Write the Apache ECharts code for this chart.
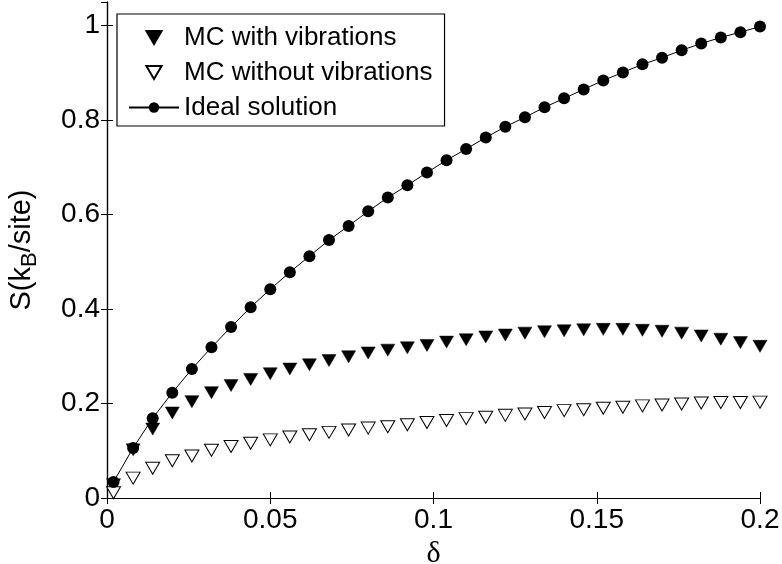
<!DOCTYPE html>
<html>
<head>
<meta charset="utf-8">
<script src="https://cdn.jsdelivr.net/npm/echarts@6/dist/echarts.min.js"></script>
<style>
  html, body { margin: 0; padding: 0; background: #fff; }
  #main { width: 782px; height: 564px; }
</style>
</head>
<body>
<div id="main"></div>
<script>
"use strict";

// delta values (x axis)
var deltas = [0.002, 0.008, 0.014, 0.020, 0.026, 0.032, 0.038, 0.044, 0.050, 0.056,
  0.062, 0.068, 0.074, 0.080, 0.086, 0.092, 0.098, 0.104, 0.110, 0.116,
  0.122, 0.128, 0.134, 0.140, 0.146, 0.152, 0.158, 0.164, 0.170, 0.176,
  0.182, 0.188, 0.194, 0.200];

// MC with vibrations
var mcVib = [0.028, 0.102, 0.146, 0.180, 0.204, 0.223, 0.238, 0.251, 0.263, 0.273,
  0.282, 0.291, 0.299, 0.307, 0.313, 0.318, 0.323, 0.330, 0.335, 0.341,
  0.345, 0.349, 0.352, 0.354, 0.356, 0.357, 0.357, 0.355, 0.353, 0.349,
  0.343, 0.336, 0.329, 0.321];

// MC without vibrations
var mcNoVib = [0.011, 0.042, 0.063, 0.079, 0.089, 0.101, 0.109, 0.116, 0.123, 0.129,
  0.134, 0.139, 0.144, 0.148, 0.151, 0.155, 0.160, 0.164, 0.168, 0.171,
  0.175, 0.178, 0.181, 0.185, 0.187, 0.190, 0.192, 0.195, 0.197, 0.199,
  0.201, 0.202, 0.202, 0.203];

// ideal solution
var ideal = [0.034, 0.106, 0.169, 0.223, 0.273, 0.319, 0.362, 0.404, 0.442, 0.478,
  0.512, 0.546, 0.576, 0.607, 0.636, 0.662, 0.689, 0.715, 0.739, 0.763,
  0.786, 0.806, 0.827, 0.846, 0.865, 0.884, 0.901, 0.918, 0.932, 0.948,
  0.962, 0.975, 0.986, 0.998];

var seriesNames = ['MC with vibrations', 'MC without vibrations', 'Ideal solution'];

function pairs(xs, ys) {
  return xs.map(function (x, i) { return [x, ys[i]]; });
}

var FONT = '"Liberation Sans", Arial, Helvetica, sans-serif';
// downward triangle for the legend (keeps its aspect inside the icon box)
var DOWN_TRI = 'path://M0,0 L14,0 L7,12 Z';

var chart = echarts.init(document.getElementById('main'), null, { renderer: 'canvas' });

var tickStyle = { show: true, inside: true, length: 6, lineStyle: { color: '#000', width: 1 } };
var lineStyle = { show: true, lineStyle: { color: '#000', width: 1.2 } };

var option = {
  backgroundColor: '#fff',
  animation: false,
  grid: { left: 107, right: 22, top: 2, bottom: 66, containLabel: false, outerBoundsMode: 'none' },
  legend: {
    orient: 'vertical',
    left: 117,
    top: 14,
    padding: [6, 12, 1, 11],
    itemGap: 0,
    itemWidth: 50,
    itemHeight: 13,
    symbolKeepAspect: true,
    backgroundColor: '#fff',
    borderColor: '#000',
    borderWidth: 1.2,
    borderRadius: 0,
    textStyle: { fontFamily: FONT, fontSize: 26, color: '#000', lineHeight: 35 },
    data: [
      { name: seriesNames[0], icon: DOWN_TRI },
      { name: seriesNames[1], icon: DOWN_TRI },
      { name: seriesNames[2] }
    ]
  },
  xAxis: [{
    type: 'value',
    min: 0, max: 0.2, interval: 0.05,
    position: 'bottom',
    axisLine: lineStyle,
    axisTick: tickStyle,
    splitLine: { show: false },
    axisLabel: { fontFamily: FONT, fontSize: 28, color: '#000', margin: 8 },
    name: 'δ',
    nameLocation: 'middle',
    nameGap: 41,
    nameTextStyle: { fontFamily: '"Liberation Serif", "DejaVu Serif", serif', fontSize: 30, color: '#000' }
  }, {
    type: 'value',
    min: 0, max: 0.2, interval: 0.05,
    position: 'top',
    axisLine: lineStyle,
    axisTick: tickStyle,
    splitLine: { show: false },
    axisLabel: { show: false }
  }],
  yAxis: [{
    type: 'value',
    min: 0, max: 1.05, interval: 0.2,
    position: 'left',
    axisLine: lineStyle,
    axisTick: tickStyle,
    splitLine: { show: false },
    axisLabel: {
      fontFamily: FONT, fontSize: 28, color: '#000', margin: 7,
      showMaxLabel: false
    },
    name: 'S(k{s|B}/site)',
    nameLocation: 'middle',
    nameGap: 66,
    nameRotate: 90,
    nameTextStyle: {
      fontFamily: FONT, fontSize: 29, color: '#000',
      rich: {
        s: { fontFamily: FONT, fontSize: 22, color: '#000', padding: [16, 0, 0, 0] }
      }
    }
  }, {
    type: 'value',
    min: 0, max: 1.05, interval: 0.2,
    position: 'right',
    axisLine: lineStyle,
    axisTick: tickStyle,
    splitLine: { show: false },
    axisLabel: { show: false }
  }],
  series: [{
    name: seriesNames[0],
    type: 'scatter',
    data: pairs(deltas, mcVib),
    symbol: 'triangle',
    symbolRotate: 180,
    symbolSize: [14, 12],
    itemStyle: { color: '#000', borderColor: '#000', borderWidth: 0.5, opacity: 1 },
    z: 3
  }, {
    name: seriesNames[1],
    type: 'scatter',
    data: pairs(deltas, mcNoVib),
    symbol: 'triangle',
    symbolRotate: 180,
    symbolSize: [14, 12],
    itemStyle: { color: '#fff', borderColor: '#000', borderWidth: 1, opacity: 1 },
    z: 3
  }, {
    name: seriesNames[2],
    type: 'line',
    data: pairs(deltas, ideal),
    symbol: 'circle',
    symbolSize: 12,
    showAllSymbol: true,
    lineStyle: { color: '#000', width: 1 },
    itemStyle: { color: '#000', borderColor: '#000', borderWidth: 0 },
    z: 4
  }]
};

chart.setOption(option);
</script>
</body>
</html>
